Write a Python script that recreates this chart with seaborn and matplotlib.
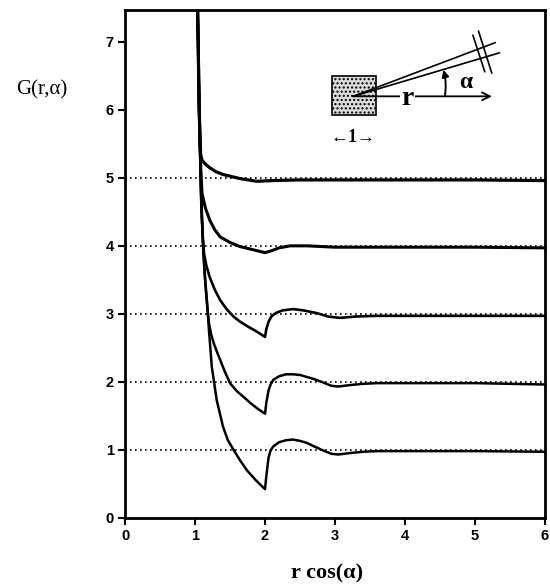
"""
Funciones de correlación G(r, alpha) para distintos ángulos.
"""

import matplotlib.pyplot as plt
import pandas as pd
import seaborn as sns
from matplotlib.patches import Rectangle

# ============================================================================
# DATOS (cada curva desplazada +1 sobre la anterior)
# ============================================================================

x_c1 = [1.03, 1.06, 1.09, 1.12, 1.15, 1.17, 1.20, 1.24, 1.31, 1.40, 1.47,
        1.55, 1.64, 1.74, 1.87, 2.00, 2.02, 2.05, 2.08, 2.12, 2.20, 2.30,
        2.40, 2.50, 2.60, 2.70, 2.83, 2.95, 3.05, 3.20, 3.40, 3.60, 4.0,
        5.0, 6.0]
y_c1 = [8.0, 6.0, 4.6, 3.9, 3.45, 3.20, 2.75, 2.22, 1.73, 1.34, 1.14,
        1.00, 0.85, 0.70, 0.55, 0.42, 0.62, 0.88, 0.99, 1.05, 1.11, 1.14,
        1.15, 1.13, 1.10, 1.05, 0.99, 0.94, 0.93, 0.95, 0.97, 0.98, 0.98,
        0.98, 0.97]

x_c2 = [1.03, 1.06, 1.09, 1.12, 1.14, 1.16, 1.18, 1.20, 1.23, 1.27, 1.31,
        1.36, 1.43, 1.50, 1.59, 1.69, 1.80, 1.90, 2.00, 2.02, 2.05, 2.08,
        2.12, 2.20, 2.30, 2.40, 2.50, 2.60, 2.70, 2.83, 2.95, 3.05, 3.20,
        3.40, 3.60, 4.0, 5.0, 6.0]
y_c2 = [8.0, 6.0, 4.6, 3.9, 3.55, 3.28, 3.05, 2.86, 2.70, 2.56, 2.45,
        2.32, 2.14, 1.98, 1.87, 1.78, 1.68, 1.60, 1.53, 1.70, 1.87, 1.96,
        2.03, 2.08, 2.11, 2.11, 2.10, 2.07, 2.04, 1.99, 1.94, 1.93, 1.95,
        1.97, 1.98, 1.98, 1.98, 1.96]

x_c3 = [1.03, 1.06, 1.09, 1.11, 1.13, 1.16, 1.21, 1.28, 1.36, 1.45, 1.55,
        1.65, 1.76, 1.88, 2.00, 2.02, 2.05, 2.09, 2.15, 2.25, 2.40, 2.55,
        2.74, 2.90, 3.07, 3.30, 3.60, 4.0, 5.0, 6.0]
y_c3 = [8.0, 6.0, 4.7, 4.15, 3.88, 3.72, 3.54, 3.36, 3.20, 3.07, 2.96,
        2.88, 2.81, 2.74, 2.66, 2.78, 2.88, 2.96, 3.01, 3.05, 3.07, 3.05,
        3.01, 2.96, 2.94, 2.96, 2.97, 2.97, 2.97, 2.97]

x_c4 = [1.03, 1.06, 1.08, 1.10, 1.15, 1.21, 1.28, 1.36, 1.50, 1.64, 1.80,
        2.00, 2.10, 2.20, 2.36, 2.60, 3.0, 4.0, 5.0, 6.0]
y_c4 = [8.0, 6.0, 5.2, 4.77, 4.55, 4.38, 4.24, 4.13, 4.05, 3.99, 3.95,
        3.90, 3.93, 3.97, 4.00, 4.00, 3.98, 3.98, 3.98, 3.97]

x_c5 = [1.03, 1.06, 1.08, 1.10, 1.15, 1.21, 1.30, 1.40, 1.52, 1.64, 1.76,
        1.88, 2.10, 2.50, 3.0, 4.0, 5.0, 6.0]
y_c5 = [8.0, 6.0, 5.35, 5.26, 5.20, 5.15, 5.09, 5.05, 5.02, 4.99, 4.97,
        4.95, 4.96, 4.97, 4.97, 4.97, 4.97, 4.96]

baselines = [1, 2, 3, 4, 5]
x_ticks = [0, 1, 2, 3, 4, 5, 6]
y_ticks = [0, 1, 2, 3, 4, 5, 6, 7]

curves = [(x_c1, y_c1, 1.8), (x_c2, y_c2, 1.8), (x_c3, y_c3, 1.9),
          (x_c4, y_c4, 2.2), (x_c5, y_c5, 2.3)]

SERIF = ["Liberation Serif", "DejaVu Serif"]

# ============================================================================
# FIGURA
# ============================================================================

sns.set_style("ticks")
plt.rcParams["font.family"] = ["Liberation Sans", "DejaVu Sans"]
plt.rcParams.update({
    "text.color": "black",
    "axes.labelcolor": "black",
    "axes.edgecolor": "black",
    "xtick.color": "black",
    "ytick.color": "black",
})

fig = plt.figure(figsize=(5.5, 5.85), dpi=100)
ax = fig.add_axes([125 / 550, 67.3 / 585, 420 / 550, 507.7 / 585])

# líneas de referencia punteadas
for b in baselines:
    ax.axhline(b, color="black", lw=1.2, ls=(0, (1, 2)), zorder=1)

for xs, ys, lw in curves:
    df = pd.DataFrame({"x": xs, "y": ys})
    sns.lineplot(data=df, x="x", y="y", ax=ax, color="black", lw=lw,
                 estimator=None, sort=False, zorder=3)

ax.set_xlim(0, 6)
ax.set_ylim(0, 7.47)
ax.set_xticks(x_ticks)
ax.set_yticks(y_ticks)
ax.tick_params(direction="out", length=5, width=1.5, labelsize=10.5, pad=3)
for lbl in ax.get_xticklabels() + ax.get_yticklabels():
    lbl.set_fontweight("bold")
for sp in ax.spines.values():
    sp.set_visible(True)
    sp.set_linewidth(2)

ax.set_xlabel("")
ax.set_ylabel("")
fig.text(0.595, 0.019, "r cos(α)", ha="center", va="center", fontsize=16,
         fontweight="bold", family=SERIF)
fig.text(0.076, 0.846, "G(r,α)", ha="center", va="center", fontsize=15,
         family=SERIF)

# ----------------------------------------------------------------------------
# Esquema (inset): cuadrado, r y ángulo alpha
# ----------------------------------------------------------------------------
origin = (3.26, 6.20)
ax.add_patch(Rectangle((2.96, 5.92), 0.63, 0.58, facecolor="#dcdcdc",
                       edgecolor="black", lw=1.2, hatch="....", zorder=4))
ax.annotate("", xy=(5.24, 6.20), xytext=origin,
            arrowprops=dict(arrowstyle="->", color="black", lw=1.3,
                            mutation_scale=14, shrinkA=0, shrinkB=0),
            zorder=5)
ax.text(4.04, 6.17, "r", ha="center", va="center", fontsize=20,
        fontweight="bold", family=SERIF,
        bbox=dict(facecolor="white", edgecolor="none", pad=1), zorder=6)
ax.plot([origin[0], 5.29], [origin[1], 6.99], color="black", lw=1.2, zorder=5)
ax.plot([origin[0], 5.35], [origin[1], 6.84], color="black", lw=1.2, zorder=5)
ax.plot([4.97, 5.14], [7.10, 6.56], color="black", lw=1.2, zorder=5)
ax.plot([5.05, 5.24], [7.16, 6.54], color="black", lw=1.2, zorder=5)
ax.annotate("", xy=(4.55, 6.59), xytext=(4.57, 6.20),
            arrowprops=dict(arrowstyle="-|>", color="black", lw=1.4,
                            mutation_scale=10, shrinkA=0, shrinkB=0,
                            connectionstyle="arc3,rad=0.1"), zorder=5)
ax.text(4.86, 6.41, "α", ha="center", va="center", fontsize=17,
        fontweight="bold", family=SERIF, zorder=6)
ax.text(3.26, 5.60, "←1→", ha="center", va="center", fontsize=13,
        fontweight="bold", family=SERIF, zorder=6)

fig.savefig("out.png", dpi=100)
plt.close(fig)
